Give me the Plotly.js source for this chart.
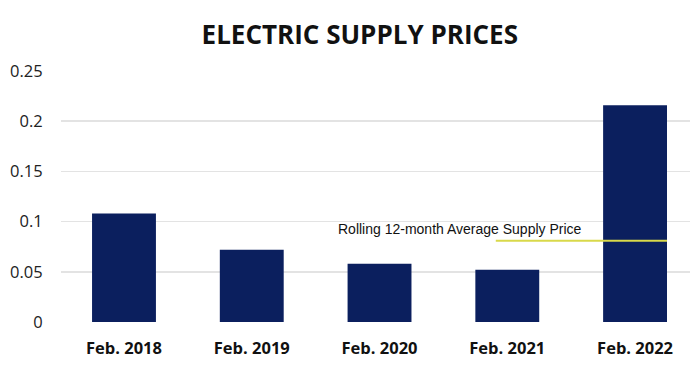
<!DOCTYPE html>
<html>
<head>
<meta charset="utf-8">
<script src="https://cdn.plot.ly/plotly-3.0.1.min.js"></script>
<style>html,body{margin:0;padding:0;background:#fff;}</style>
</head>
<body>
<div id="chart" style="width:700px;height:368px;"></div>
<script>
var categories = ["Feb. 2018", "Feb. 2019", "Feb. 2020", "Feb. 2021", "Feb. 2022"];
var prices = [0.108, 0.072, 0.058, 0.052, 0.216];
var avgLabel = "Rolling 12-month Average Supply Price";
var avgPrice = [0.081];
var yTicks = [0, 0.05, 0.1, 0.15, 0.2, 0.25];

var trace = {
  type: "bar",
  x: categories,
  y: prices,
  marker: {color: "#0b1f5e"},
  width: 0.5,
  hoverinfo: "x+y"
};

var layout = {
  width: 700, height: 368,
  margin: {l: 61, r: 10, t: 71, b: 46},
  paper_bgcolor: "#fff", plot_bgcolor: "#fff",
  title: {text: "ELECTRIC SUPPLY PRICES", x: 0.514, xanchor: "center", y: 0.905, yanchor: "middle",
          font: {family: "Open Sans", size: 26, color: "#111", weight: 700}},
  showlegend: false,
  xaxis: {
    range: [-0.493, 4.43],
    tickfont: {family: "Open Sans", size: 16.5, color: "#111", weight: 700},
    ticks: "outside", ticklen: 11, tickcolor: "rgba(0,0,0,0)",
    showline: false, showgrid: false, zeroline: false
  },
  yaxis: {
    range: [0, 0.25],
    tickvals: yTicks,
    ticktext: yTicks.map(String),
    tickfont: {family: "Open Sans", size: 16.5, color: "#222"},
    ticks: "outside", ticklen: 14, tickcolor: "rgba(0,0,0,0)",
    showgrid: true, gridcolor: "#e3e3e3", gridwidth: 1.5,
    zeroline: false, showline: false
  },
  shapes: [{
    type: "line", xref: "x", yref: "y",
    x0: 2.91, x1: 4.25, y0: avgPrice[0], y1: avgPrice[0],
    line: {color: "#d9d94a", width: 2}
  }],
  annotations: [{
    xref: "x", yref: "y", x: 2.63, y: avgPrice[0],
    text: avgLabel, showarrow: false,
    xanchor: "center", yanchor: "bottom", yshift: 2,
    font: {family: "Liberation Sans", size: 14, color: "#111"}
  }]
};

Plotly.newPlot("chart", [trace], layout, {displayModeBar: false, staticPlot: true});
</script>
</body>
</html>
